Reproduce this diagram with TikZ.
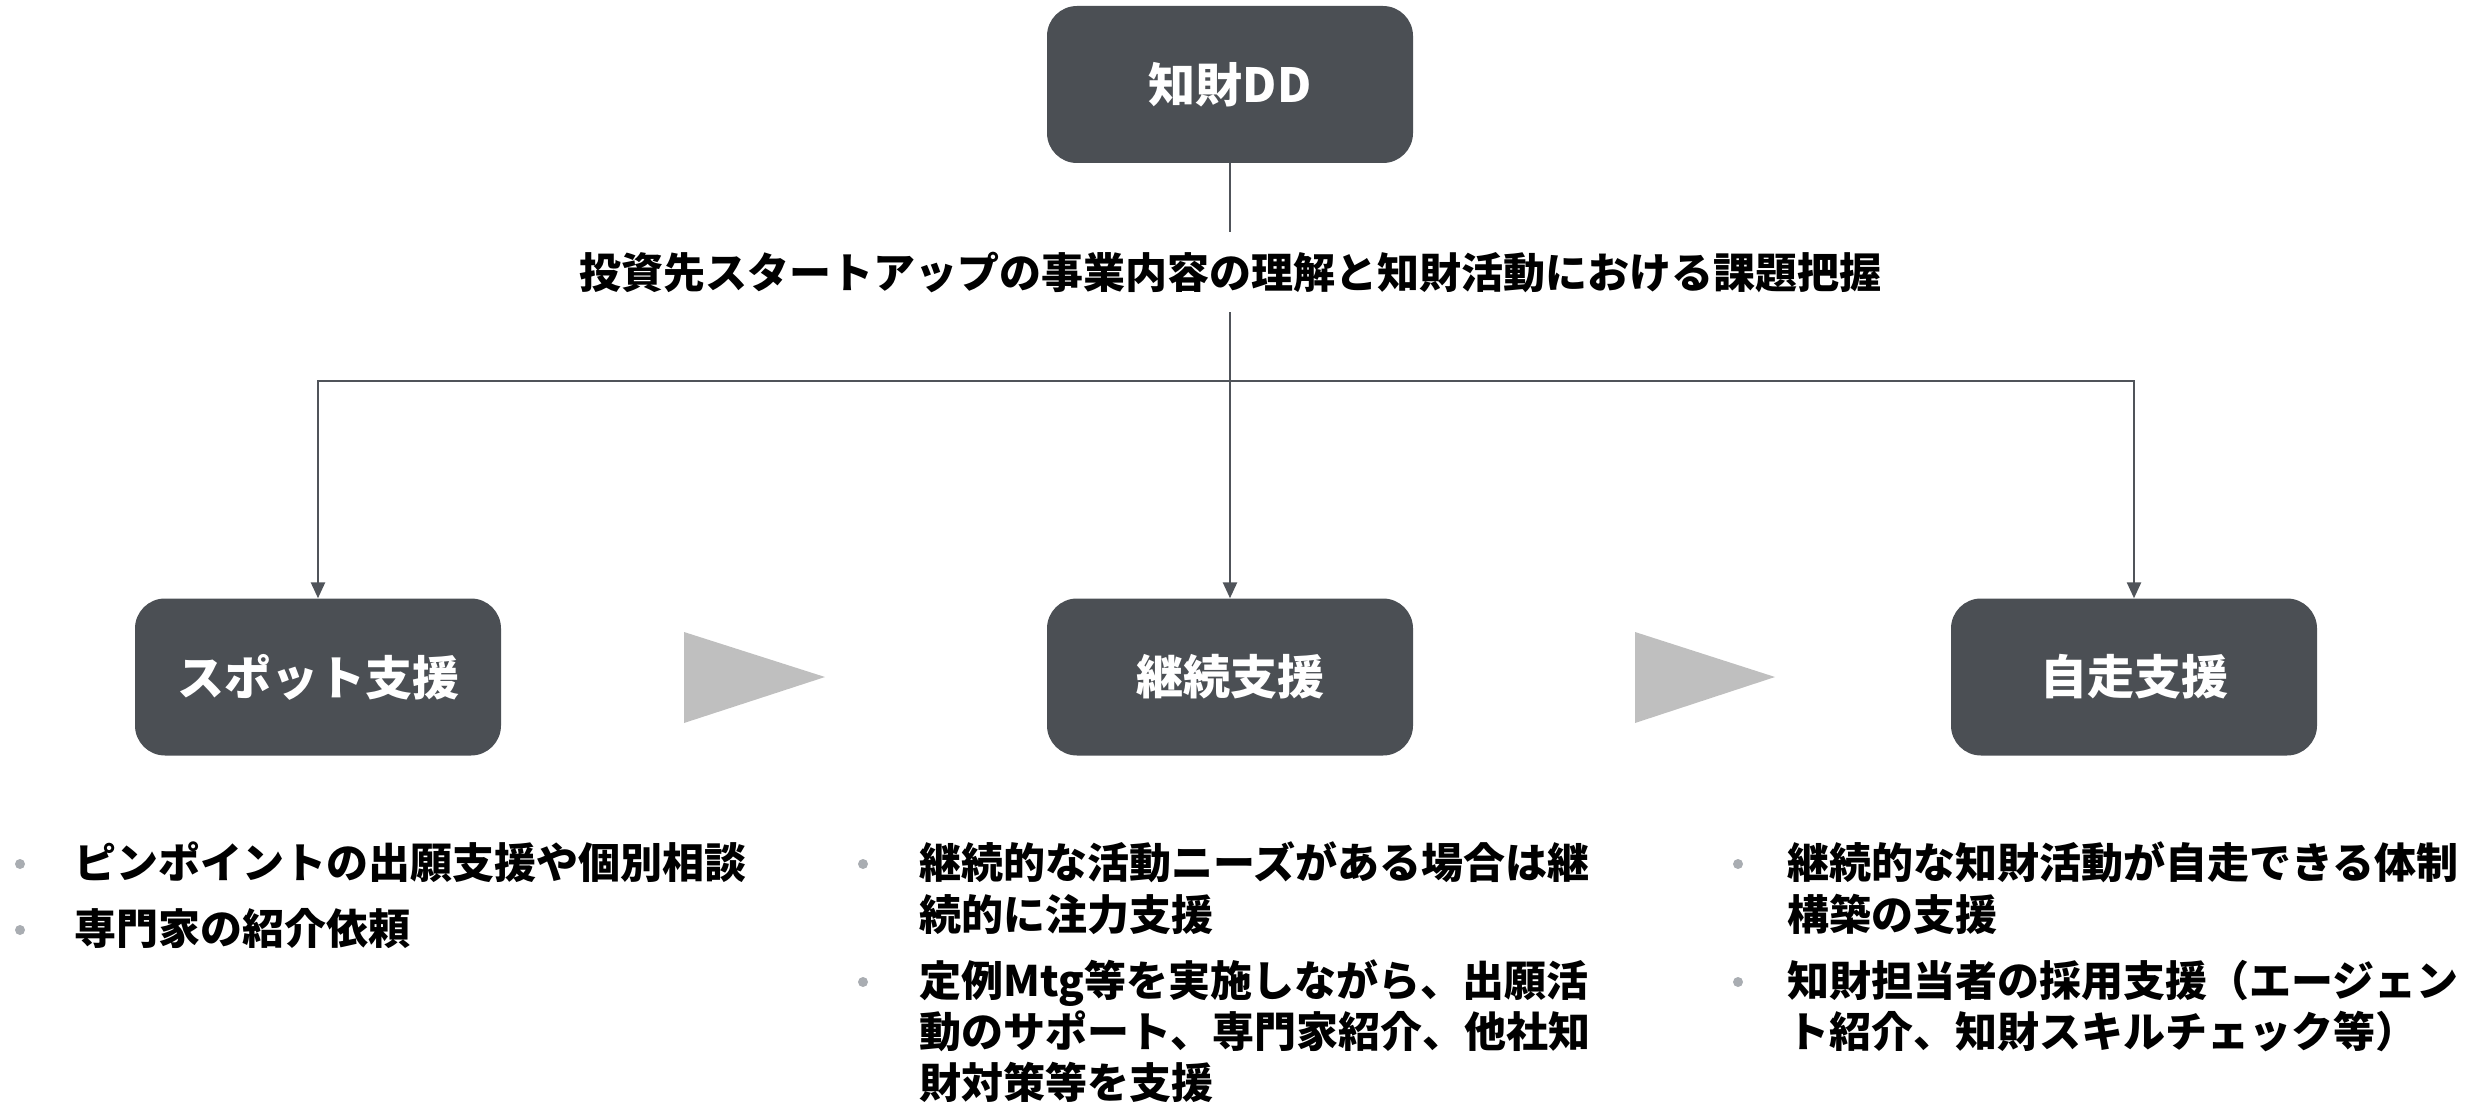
\documentclass[tikz,border=0pt]{standalone}
\usepackage{fontspec}
\setmainfont{Noto Sans CJK JP}
\usetikzlibrary{arrows.meta}
\definecolor{boxgray}{HTML}{4B4F54}
\definecolor{linegray}{HTML}{50545A}
\definecolor{dotgray}{HTML}{A9ADB2}
\definecolor{chevgray}{HTML}{BFBFBF}
\begin{document}
\begin{tikzpicture}[x=1pt,y=-1pt,
  box/.style={rounded corners=30pt, fill=boxgray, text=white, minimum width=366pt, minimum height=157pt, inner sep=0pt, font=\fontsize{47}{56}\selectfont\bfseries},
  conn/.style={draw=linegray, line width=2.5pt},
  arr/.style={conn, -{Triangle[width=14pt,length=16pt]}},
  txt/.style={anchor=west, inner sep=0pt, text height=37pt, text depth=5pt, font=\fontsize{42}{53}\selectfont\bfseries},
  dot/.style={circle, fill=dotgray, inner sep=0pt, minimum size=10pt},
  chev/.style={fill=chevgray}]
\useasboundingbox (0,0) rectangle (2484,1102);
% top
\node[box] (dd) at (1230,84.5) {知財DD};
\node[txt, anchor=center, minimum height=80pt] (goal) at (1230,272) {投資先スタートアップの事業内容の理解と知財活動における課題把握};
\coordinate (junc) at (1230,381);
% stage boxes
\node[box] (spot) at (318,677) {スポット支援};
\node[box] (cont) at (1230,677) {継続支援};
\node[box] (self) at (2134,677) {自走支援};
% connectors
\draw[conn] (dd) -- (goal);
\draw[conn] (goal) -- (junc);
\draw[arr] (junc) -| (spot);
\draw[arr] (junc) -- (cont);
\draw[arr] (junc) -| (self);
% chevrons
\fill[chev] (684,632) -- (825,677) -- (684,723) -- cycle;
\fill[chev] (1635,632) -- (1775,677) -- (1635,723) -- cycle;
% left bullets
\node[dot] (bl1) at (20,864) {};
\node[txt] (l1a) at (74,862) {ピンポイントの出願支援や個別相談};
\node[dot] (bl2) at (20,930) {};
\node[txt] (l2a) at (74,928) {専門家の紹介依頼};
% middle bullets
\node[dot] (bm1) at (863,864) {};
\node[txt] (m1a) at (919,862) {継続的な活動ニーズがある場合は継};
\node[txt] (m1b) at (919,914) {続的に注力支援};
\node[dot] (bm2) at (863,982) {};
\node[txt] (m2a) at (919,980) {定例Mtg等を実施しながら、出願活};
\node[txt] (m2b) at (919,1031) {動のサポート、専門家紹介、他社知};
\node[txt] (m2c) at (919,1082) {財対策等を支援};
% right bullets
\node[dot] (br1) at (1738,864) {};
\node[txt] (r1a) at (1787,862) {継続的な知財活動が自走できる体制};
\node[txt] (r1b) at (1787,914) {構築の支援};
\node[dot] (br2) at (1738,982) {};
\node[txt] (r2a) at (1787,980) {知財担当者の採用支援（エージェン};
\node[txt] (r2b) at (1787,1031) {ト紹介、知財スキルチェック等）};
\end{tikzpicture}
\end{document}
